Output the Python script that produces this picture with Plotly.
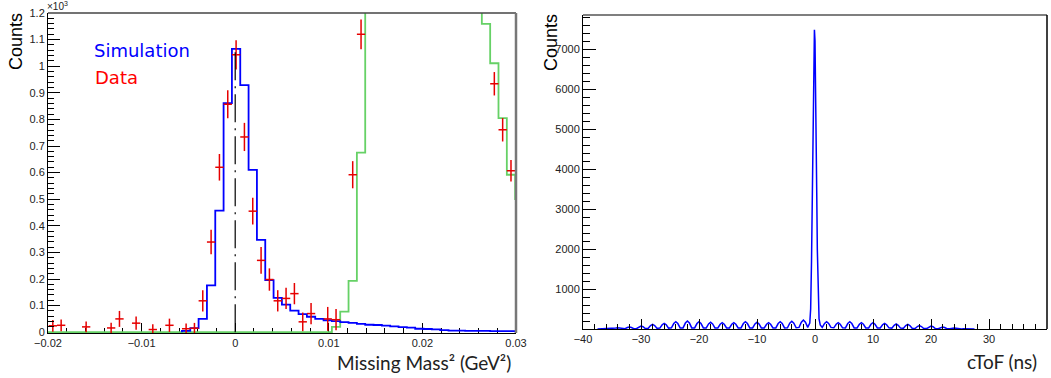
import plotly.graph_objects as go

# ---------------- Left panel: Missing Mass^2 (values in units of 10^3 counts) ----------------
MM_BIN_WIDTH = 0.00089      # GeV^2, histogram bin width
MM_EDGE0 = -0.00035         # lower edge of bin index 0

sim_first_bin = -6
sim_counts = [0.005, 0.015, 0.05, 0.176, 0.457, 0.861, 1.065, 0.929, 0.61, 0.347,
              0.196, 0.129, 0.104, 0.081, 0.068, 0.058, 0.05, 0.045, 0.042, 0.038,
              0.035, 0.031, 0.028, 0.027, 0.025, 0.022, 0.019, 0.017, 0.013, 0.012,
              0.011, 0.008, 0.006, 0.006, 0.005, 0.005, 0.005, 0.004, 0.004, 0.004, 0.003]

bkg_first_bin = 12
# bins 16..29 are off scale (> 1.2) in the picture
bkg_counts = [0.02, 0.077, 0.193, 0.675, 1.25, 1.25, 1.25, 1.25, 1.25, 1.25, 1.25, 1.25,
              1.25, 1.25, 1.25, 1.25, 1.25, 1.25, 1.159, 1.011, 0.805, 0.592, 0.5]

data_mm2 = [-0.019485, -0.018595, -0.015925, -0.013255, -0.012365, -0.010585, -0.008805,
            -0.007025, -0.005245, -0.004355, -0.003465, -0.002575, -0.001685, -0.000795,
            0.000095, 0.000985, 0.001875, 0.002765, 0.003655, 0.004545, 0.005435, 0.006325,
            0.007215, 0.008105, 0.009885, 0.010775, 0.012555, 0.013445, 0.027685, 0.028575,
            0.029465]
data_counts = [0.024, 0.026, 0.020, 0.016, 0.050, 0.034, 0.010, 0.026, 0.013, 0.015, 0.118,
               0.339, 0.620, 0.857, 1.043, 0.734, 0.455, 0.270, 0.198, 0.118, 0.127, 0.145,
               0.039, 0.070, 0.050, 0.047, 0.592, 1.120, 0.934, 0.761, 0.607]
data_err = [0.022, 0.022, 0.02, 0.02, 0.03, 0.025, 0.02, 0.025, 0.02, 0.02, 0.04,
            0.046, 0.05, 0.053, 0.055, 0.053, 0.05, 0.05, 0.042, 0.04, 0.04, 0.04,
            0.035, 0.04, 0.045, 0.04, 0.051, 0.056, 0.044, 0.044, 0.04]

nominal_mm2 = 0.0
nominal_line_top = 1.07

mm_tick_vals = [-0.02, -0.01, 0.0, 0.01, 0.02, 0.03]
mm_tick_text = ["\u22120.02", "\u22120.01", "0", "0.01", "0.02", "0.03"]
cnt_tick_vals = [0, 0.1, 0.2, 0.3, 0.4, 0.5, 0.6, 0.7, 0.8, 0.9, 1.0, 1.1, 1.2]
cnt_tick_text = ["0", "0.1", "0.2", "0.3", "0.4", "0.5", "0.6", "0.7", "0.8", "0.9", "1", "1.1", "1.2"]

# ---------------- Right panel: cToF ----------------
ctof_bump_ns = [-36, -34, -32, -30, -28, -26, -24, -22, -20, -18, -16, -14, -12, -10, -8, -6, -4, -2,
                2, 4, 6, 8, 10, 12, 14, 16, 18, 20, 22, 24, 26]
ctof_bump_peak = [15, 30, 50, 75, 117, 142, 183, 200, 183, 167, 158, 158, 183, 167, 158, 183, 192, 225,
                  183, 158, 183, 158, 158, 142, 125, 117, 83, 75, 50, 25, 8]
ctof_bump_base = [3, 5, 8, 12, 18, 22, 28, 28, 28, 28, 28, 28, 28, 28, 28, 28, 30, 40,
                  40, 30, 28, 28, 28, 28, 22, 18, 12, 10, 6, 4, 2]
ctof_peak_ns = [-1.2, -0.9, -0.75, -0.6, -0.5, -0.4, -0.3, -0.2, -0.1, 0.0, 0.1, 0.2, 0.3, 0.4, 0.55, 0.7, 0.9, 1.2]
ctof_peak_counts = [60, 150, 500, 1700, 3000, 4500, 6000, 7100, 7480, 7200, 6300, 4900, 3400, 2000, 800, 250, 100, 60]

ctof_tick_vals = [-40, -30, -20, -10, 0, 10, 20, 30, 40]
ctof_tick_text = ["\u221240", "\u221230", "\u221220", "\u221210", "0", "10", "20", "30", "40"]
ctof_cnt_vals = [1000, 2000, 3000, 4000, 5000, 6000, 7000]
ctof_cnt_text = ["1000", "2000", "3000", "4000", "5000", "6000", "7000"]

BUMP_HALF_WIDTH = 0.75


def edge(k):
    return MM_EDGE0 + k * MM_BIN_WIDTH


def step_xy(first_k, vals, start_x=None):
    xs, ys = [], []
    if start_x is not None:
        xs.append(start_x)
        ys.append(0)
    xs.append(edge(first_k))
    ys.append(0)
    for i, v in enumerate(vals):
        xs.append(edge(first_k + i))
        ys.append(v)
    xs.append(edge(first_k + len(vals)))
    ys.append(vals[-1])
    xs.append(edge(first_k + len(vals)))
    ys.append(0)
    return xs, ys


fig = go.Figure()

bx, by = step_xy(bkg_first_bin, bkg_counts, start_x=-0.02)
fig.add_trace(go.Scatter(x=bx, y=by, mode="lines", line=dict(color="#66d166", width=1.8, shape="hv"),
                         xaxis="x", yaxis="y", showlegend=False, hoverinfo="skip"))
sx, sy = step_xy(sim_first_bin, sim_counts)
fig.add_trace(go.Scatter(x=sx, y=sy, mode="lines", line=dict(color="#0000ff", width=1.8, shape="hv"),
                         xaxis="x", yaxis="y", showlegend=False, hoverinfo="skip"))
fig.add_trace(go.Scatter(x=data_mm2, y=data_counts, mode="markers",
                         marker=dict(size=1, color="#e60000"),
                         error_x=dict(type="constant", value=MM_BIN_WIDTH / 2, color="#e60000", thickness=1.5, width=0),
                         error_y=dict(type="data", array=data_err, color="#e60000", thickness=1.5, width=0),
                         xaxis="x", yaxis="y", showlegend=False, hoverinfo="skip"))

# right panel curve
cx, cy = [-37.5], [0]
peak_added = False
for c, h, b in zip(ctof_bump_ns, ctof_bump_peak, ctof_bump_base):
    if c > 0 and not peak_added:
        cx += ctof_peak_ns
        cy += ctof_peak_counts
        peak_added = True
    cx += [c - BUMP_HALF_WIDTH, c - 0.35, c, c + 0.35, c + BUMP_HALF_WIDTH]
    cy += [b, b + 0.7 * (h - b), h, b + 0.7 * (h - b), b]
cx.append(27.5)
cy.append(0)
fig.add_trace(go.Scatter(x=cx, y=cy, mode="lines", line=dict(color="#0000ff", width=1.5),
                         xaxis="x2", yaxis="y2", showlegend=False, hoverinfo="skip"))

tickfont = dict(family="Liberation Sans, Arial, sans-serif", size=11, color="#222")
common = dict(showgrid=False, zeroline=False, showline=True, linecolor="black", linewidth=1,
              ticks="inside", tickcolor="black", tickwidth=1, tickfont=tickfont, automargin=False)

# page pixel positions (window 1051 x 378); page body margin removed in post_script
L_X0, L_X1, L_Y0, L_Y1 = 48, 516, 13, 333
R_X0, R_X1, R_Y0, R_Y1 = 583, 1047, 15, 329
W, H = 1051, 378

fig.update_layout(
    width=W, height=H, margin=dict(l=0, r=0, t=0, b=0),
    paper_bgcolor="white", plot_bgcolor="white", template="none",
    xaxis=dict(domain=[L_X0 / W, L_X1 / W], range=[-0.02, 0.03], anchor="y",
               tickmode="array", tickvals=mm_tick_vals, ticktext=mm_tick_text, ticklen=10, layer="below traces",
               minor=dict(dtick=0.002, tick0=0, ticks="inside", ticklen=5, tickcolor="black"), **common),
    yaxis=dict(domain=[1 - L_Y1 / H, 1 - L_Y0 / H], range=[-0.003, 1.2], anchor="x",
               tickmode="array", tickvals=cnt_tick_vals, ticktext=cnt_tick_text, ticklen=12,
               minor=dict(dtick=0.02, tick0=0, ticks="inside", ticklen=6, tickcolor="black"), **common),
    xaxis2=dict(domain=[R_X0 / W, R_X1 / W], range=[-40, 40], anchor="y2",
                tickmode="array", tickvals=ctof_tick_vals, ticktext=ctof_tick_text, ticklen=10,
                minor=dict(dtick=2, tick0=0, ticks="inside", ticklen=5, tickcolor="black"), **common),
    yaxis2=dict(domain=[1 - R_Y1 / H, 1 - R_Y0 / H], range=[0, 7850], anchor="x2",
                tickmode="array", tickvals=ctof_cnt_vals, ticktext=ctof_cnt_text, ticklen=13,
                minor=dict(dtick=200, tick0=0, ticks="inside", ticklen=7, tickcolor="black"), **common),
)

shapes = [
    dict(type="line", xref="x", yref="y", x0=nominal_mm2, x1=nominal_mm2, y0=0, y1=nominal_line_top,
         line=dict(color="black", width=1.2, dash="28px,6px,2px,6px")),
    dict(type="line", xref="x domain", yref="y domain", x0=0, x1=1, y0=1, y1=1, line=dict(color="#444", width=1.5)),
    dict(type="line", xref="x domain", yref="y domain", x0=1, x1=1, y0=0, y1=1, line=dict(color="#777", width=2.5)),
    dict(type="line", xref="x2 domain", yref="y2 domain", x0=0, x1=1, y0=1, y1=1, line=dict(color="#555", width=1.5)),
    dict(type="line", xref="x2 domain", yref="y2 domain", x0=1, x1=1, y0=0, y1=1, line=dict(color="black", width=1.5)),
]
fig.update_layout(shapes=shapes)

root_font = "Liberation Sans, Arial, sans-serif"
ppt_font = "Lato, Open Sans, sans-serif"
ann = [
    dict(text="Counts", x=16 / W, y=1 - 42 / H, textangle=-90, font=dict(family=root_font, size=18, color="black")),
    dict(text="Counts", x=550.5 / W, y=1 - 42.5 / H, textangle=-90, font=dict(family=root_font, size=18, color="black")),
    dict(text="\u00d710<sup>3</sup>", x=57 / W, y=1 - 6 / H, font=dict(family=root_font, size=10, color="#222")),
    dict(text="Simulation", x=92 / W, y=1 - 50 / H, xanchor="left", font=dict(family="DejaVu Sans, sans-serif", size=18, color="#0000ff")),
    dict(text="Data", x=93 / W, y=1 - 77 / H, xanchor="left", font=dict(family="DejaVu Sans, sans-serif", size=18, color="#ff0000")),
    dict(text="Missing Mass\u00b2 (GeV\u00b2)", x=513 / W, y=1 - 362 / H, xanchor="right", font=dict(family=ppt_font, size=19, color="#222")),
    dict(text="cToF (ns)", x=1039 / W, y=1 - 361 / H, xanchor="right", font=dict(family=ppt_font, size=19, color="#222")),
]
for a in ann:
    a.setdefault("xanchor", "center")
    a.update(xref="paper", yref="paper", yanchor="middle", showarrow=False)
fig.update_layout(annotations=ann)

fig.write_html("out.html", config={"displayModeBar": False},
               post_script="document.body.style.margin='0px';document.body.style.padding='0px';")
